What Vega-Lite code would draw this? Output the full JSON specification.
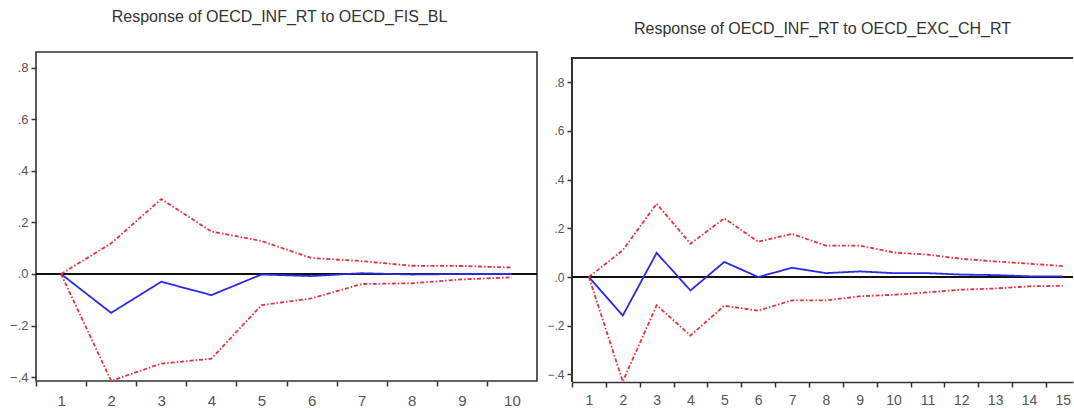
{
  "$schema": "https://vega.github.io/schema/vega-lite/v6.json",
  "padding": {"left": 8, "top": 8, "right": 0, "bottom": 0},
  "background": "white",
  "spacing": 35,
  "bounds": "flush",
  "config": {
    "font": "Liberation Sans",
    "axis": {"grid": false, "domain": false, "tickColor": "#333", "tickWidth": 1.5, "tickSize": 5, "labelColor": "#555", "title": null, "labelFont": "Liberation Sans"},
    "title": {"font": "Liberation Sans", "fontSize": 16, "fontWeight": "normal", "color": "#333", "anchor": "middle"}
  },
  "datasets": {
    "fis": [
      {"t": 1, "series": "Response", "value": 0},
      {"t": 2, "series": "Response", "value": -0.151},
      {"t": 3, "series": "Response", "value": -0.03},
      {"t": 4, "series": "Response", "value": -0.082},
      {"t": 5, "series": "Response", "value": -0.002},
      {"t": 6, "series": "Response", "value": -0.008},
      {"t": 7, "series": "Response", "value": 0.003},
      {"t": 8, "series": "Response", "value": -0.002},
      {"t": 9, "series": "Response", "value": 0},
      {"t": 10, "series": "Response", "value": 0},
      {"t": 1, "series": "Upper", "value": 0},
      {"t": 2, "series": "Upper", "value": 0.119},
      {"t": 3, "series": "Upper", "value": 0.291},
      {"t": 4, "series": "Upper", "value": 0.165},
      {"t": 5, "series": "Upper", "value": 0.128},
      {"t": 6, "series": "Upper", "value": 0.062},
      {"t": 7, "series": "Upper", "value": 0.05},
      {"t": 8, "series": "Upper", "value": 0.032},
      {"t": 9, "series": "Upper", "value": 0.031},
      {"t": 10, "series": "Upper", "value": 0.025},
      {"t": 1, "series": "Lower", "value": 0},
      {"t": 2, "series": "Lower", "value": -0.415},
      {"t": 3, "series": "Lower", "value": -0.348},
      {"t": 4, "series": "Lower", "value": -0.329},
      {"t": 5, "series": "Lower", "value": -0.121},
      {"t": 6, "series": "Lower", "value": -0.095},
      {"t": 7, "series": "Lower", "value": -0.039},
      {"t": 8, "series": "Lower", "value": -0.036},
      {"t": 9, "series": "Lower", "value": -0.021},
      {"t": 10, "series": "Lower", "value": -0.013}
    ],
    "exc": [
      {"t": 1, "series": "Response", "value": 0},
      {"t": 2, "series": "Response", "value": -0.158},
      {"t": 3, "series": "Response", "value": 0.099},
      {"t": 4, "series": "Response", "value": -0.055},
      {"t": 5, "series": "Response", "value": 0.062},
      {"t": 6, "series": "Response", "value": 0.0},
      {"t": 7, "series": "Response", "value": 0.038},
      {"t": 8, "series": "Response", "value": 0.016},
      {"t": 9, "series": "Response", "value": 0.023},
      {"t": 10, "series": "Response", "value": 0.016},
      {"t": 11, "series": "Response", "value": 0.016},
      {"t": 12, "series": "Response", "value": 0.01},
      {"t": 13, "series": "Response", "value": 0.008},
      {"t": 14, "series": "Response", "value": 0.003},
      {"t": 15, "series": "Response", "value": 0.003},
      {"t": 1, "series": "Upper", "value": 0},
      {"t": 2, "series": "Upper", "value": 0.11},
      {"t": 3, "series": "Upper", "value": 0.301},
      {"t": 4, "series": "Upper", "value": 0.137},
      {"t": 5, "series": "Upper", "value": 0.241},
      {"t": 6, "series": "Upper", "value": 0.145},
      {"t": 7, "series": "Upper", "value": 0.177},
      {"t": 8, "series": "Upper", "value": 0.129},
      {"t": 9, "series": "Upper", "value": 0.129},
      {"t": 10, "series": "Upper", "value": 0.101},
      {"t": 11, "series": "Upper", "value": 0.092},
      {"t": 12, "series": "Upper", "value": 0.075},
      {"t": 13, "series": "Upper", "value": 0.064},
      {"t": 14, "series": "Upper", "value": 0.055},
      {"t": 15, "series": "Upper", "value": 0.045},
      {"t": 1, "series": "Lower", "value": 0},
      {"t": 2, "series": "Lower", "value": -0.429},
      {"t": 3, "series": "Lower", "value": -0.116},
      {"t": 4, "series": "Lower", "value": -0.24},
      {"t": 5, "series": "Lower", "value": -0.118},
      {"t": 6, "series": "Lower", "value": -0.138},
      {"t": 7, "series": "Lower", "value": -0.096},
      {"t": 8, "series": "Lower", "value": -0.096},
      {"t": 9, "series": "Lower", "value": -0.079},
      {"t": 10, "series": "Lower", "value": -0.073},
      {"t": 11, "series": "Lower", "value": -0.063},
      {"t": 12, "series": "Lower", "value": -0.052},
      {"t": 13, "series": "Lower", "value": -0.047},
      {"t": 14, "series": "Lower", "value": -0.038},
      {"t": 15, "series": "Lower", "value": -0.036}
    ]
  },
  "hconcat": [
    {
      "width": 501,
      "height": 329,
      "view": {"stroke": "#333", "strokeWidth": 1.6},
      "title": {"text": "Response of OECD_INF_RT to OECD_FIS_BL", "offset": 27, "dx": -7},
      "data": {"name": "fis"},
      "encoding": {
        "x": {"field": "t", "type": "quantitative", "scale": {"domain": [0.5, 10.5], "nice": false, "zero": false},
              "axis": {"values": [1,2,3,4,5,6,7,8,9,10,11], "tickOffset": -25.05, "labelOffset": 25.05, "labelExpr": "datum.value > 10 ? '' : datum.label", "labelFontSize": 15, "labelPadding": 7}},
        "y": {"field": "value", "type": "quantitative", "scale": {"domain": [-0.4155, 0.862], "nice": false, "zero": false},
              "axis": {"values": [-0.4,-0.2,0,0.2,0.4,0.6,0.8], "labelExpr": "replace(format(datum.value, '.1f'), '0.', '.')", "labelFontSize": 13, "labelPadding": 3}}
      },
      "layer": [
        {"mark": {"type": "rule", "color": "#111", "strokeWidth": 1.5}, "encoding": {"x": null, "y": {"datum": 0}}},
        {"mark": {"type": "line", "strokeWidth": 1.8, "clip": true},
         "encoding": {
           "color": {"field": "series", "type": "nominal", "scale": {"domain": ["Response", "Upper", "Lower"], "range": ["#2a2ae0", "#e8303a", "#e8303a"]}, "legend": null},
           "strokeDash": {"field": "series", "type": "nominal", "scale": {"domain": ["Response", "Upper", "Lower"], "range": [[1, 0], [4, 2, 1.5, 2], [4, 2, 1.5, 2]]}, "legend": null}
         }}
      ]
    },
    {
      "width": 501,
      "height": 330,
      "view": {"stroke": null},
      "title": {"text": "Response of OECD_INF_RT to OECD_EXC_CH_RT", "offset": 15, "fontSize": 16},
      "data": {"name": "exc"},
      "encoding": {
        "x": {"field": "t", "type": "quantitative", "scale": {"domain": [0.5, 15.3], "nice": false, "zero": false},
              "axis": {"values": [1,2,3,4,5,6,7,8,9,10,11,12,13,14,15], "tickOffset": -16.93, "labelOffset": 16.93, "labelFontSize": 14, "labelPadding": 6, "domain": true, "domainColor": "#333", "domainWidth": 1.6}},
        "y": {"field": "value", "type": "quantitative", "scale": {"domain": [-0.431, 0.924], "nice": false, "zero": false},
              "axis": {"values": [-0.4,-0.2,0,0.2,0.4,0.6,0.8], "labelExpr": "replace(format(datum.value, '.1f'), '0.', '.')", "labelFontSize": 12, "labelPadding": 3}}
      },
      "layer": [
        {"mark": {"type": "rule", "color": "#333", "strokeWidth": 1.6}, "encoding": {"x": null, "y": {"datum": 0.9}}},
        {"mark": {"type": "rule", "color": "#333", "strokeWidth": 1.6}, "encoding": {"x": {"datum": 0.5}, "y": {"datum": -0.431}, "y2": {"datum": 0.9}}},
        {"mark": {"type": "rule", "color": "#111", "strokeWidth": 1.5}, "encoding": {"x": null, "y": {"datum": 0}}},
        {"mark": {"type": "line", "strokeWidth": 1.8, "clip": true},
         "encoding": {
           "color": {"field": "series", "type": "nominal", "scale": {"domain": ["Response", "Upper", "Lower"], "range": ["#2a2ae0", "#e8303a", "#e8303a"]}, "legend": null},
           "strokeDash": {"field": "series", "type": "nominal", "scale": {"domain": ["Response", "Upper", "Lower"], "range": [[1, 0], [4, 2, 1.5, 2], [4, 2, 1.5, 2]]}, "legend": null}
         }}
      ]
    }
  ],
  "resolve": {"scale": {"color": "independent", "strokeDash": "independent"}}
}
